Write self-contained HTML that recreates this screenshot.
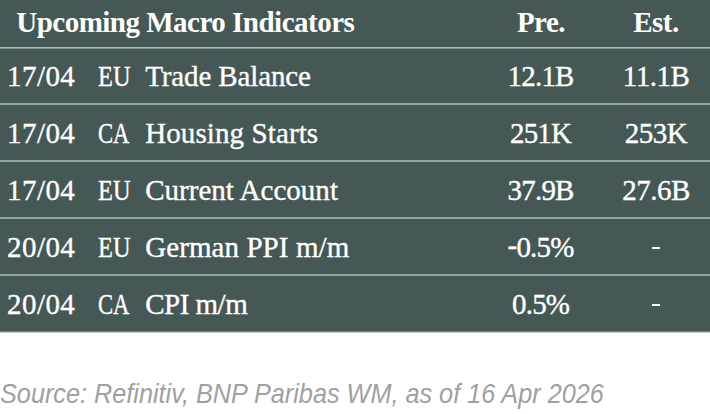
<!DOCTYPE html>
<html>
<head>
<meta charset="utf-8">
<style>
html,body{margin:0;padding:0;background:#fff;}
body{width:710px;height:414px;position:relative;overflow:hidden;font-family:"Liberation Serif",serif;}
.tbl{position:absolute;left:0;top:0;width:710px;height:331px;background:#465855;}
.ln{position:absolute;left:0;width:710px;height:2px;background:#8fa89b;}
.t{position:absolute;color:#fff;font-size:29px;line-height:28px;white-space:pre;-webkit-text-stroke:0.35px #fff;}
.h{position:absolute;color:#fff;font-size:29px;line-height:28px;white-space:pre;font-weight:bold;top:8px;letter-spacing:-0.5px;}
.c1{left:481px;width:120px;text-align:center;}
.c2{left:596px;width:120px;text-align:center;}
.d{left:7px;letter-spacing:0.45px;}
.eu{left:97.5px;transform:scaleX(0.84);transform-origin:0 0;}
.ca{left:98px;transform:scaleX(0.78);transform-origin:0 0;}
.ev{left:145.2px;}
.n1{letter-spacing:-0.8px;text-indent:-0.8px;}
.n2{letter-spacing:-0.5px;}
.r1{top:62px}.r2{top:119px}.r3{top:176px}.r4{top:233px}.r5{top:290px}
.src{position:absolute;left:0.3px;top:380px;font-family:"Liberation Sans",sans-serif;font-style:italic;font-size:27.5px;line-height:27px;color:#a0a0a0;white-space:pre;transform:scaleX(0.918);transform-origin:0 0;}
</style>
</head>
<body>
<div class="tbl"></div>
<div style="position:absolute;left:0;top:331px;width:710px;height:1px;background:#6f877d"></div>
<div style="position:absolute;left:0;top:332px;width:710px;height:1px;background:#b7ccbf"></div>
<div class="ln" style="top:47px;height:1px;background:#a8c2b3"></div>
<div class="ln" style="top:48px;height:1px;background:#7a9488"></div>
<div class="ln" style="top:103px"></div>
<div class="ln" style="top:160px"></div>
<div class="ln" style="top:217px"></div>
<div class="ln" style="top:274px"></div>

<div class="h" style="left:16.2px">Upcoming Macro Indicators</div>
<div class="h c1">Pre.</div>
<div class="h c2">Est.</div>

<div class="t r1 d">17/04</div>
<div class="t r1 eu">EU</div>
<div class="t r1 ev" style="letter-spacing:-0.13px">Trade Balance</div>
<div class="t r1 c1 n1">12.1B</div>
<div class="t r1 c2 n2">11.1B</div>

<div class="t r2 d">17/04</div>
<div class="t r2 ca">CA</div>
<div class="t r2 ev" style="letter-spacing:0.1px">Housing Starts</div>
<div class="t r2 c1 n1">251K</div>
<div class="t r2 c2 n2">253K</div>

<div class="t r3 d">17/04</div>
<div class="t r3 eu">EU</div>
<div class="t r3 ev" style="letter-spacing:0.02px">Current Account</div>
<div class="t r3 c1 n1">37.9B</div>
<div class="t r3 c2 n2">27.6B</div>

<div class="t r4 d">20/04</div>
<div class="t r4 eu">EU</div>
<div class="t r4 ev" style="letter-spacing:0.08px">German PPI m/m</div>
<div class="t r4 c1 n1"><span style="position:relative;top:-2px">-</span>0.5%</div>
<div style="position:absolute;left:652px;top:247px;width:8px;height:2px;background:#fff"></div>

<div class="t r5 d">20/04</div>
<div class="t r5 ca">CA</div>
<div class="t r5 ev" style="letter-spacing:-0.5px">CPI m/m</div>
<div class="t r5 c1 n1">0.5%</div>
<div style="position:absolute;left:652px;top:304px;width:8px;height:2px;background:#fff"></div>

<div class="src">Source: Refinitiv, BNP Paribas WM, as of 16 Apr 2026</div>
</body>
</html>
